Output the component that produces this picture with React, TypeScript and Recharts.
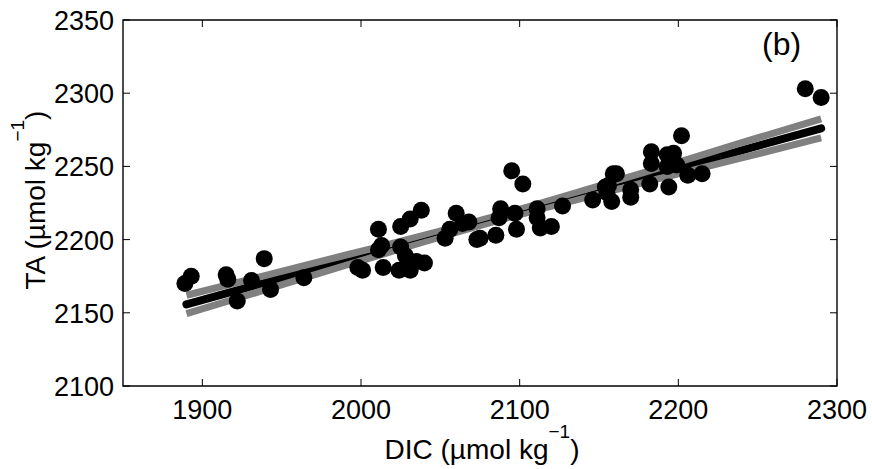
import React from "react";
import { ComposedChart, XAxis, YAxis, Line, Scatter, ReferenceArea } from "recharts";

// measured samples: DIC vs TA
const dicValues = [
  1889, 1893, 1915, 1916, 1922, 1931, 1939, 1943, 1964,
  1998, 2001, 2011, 2011, 2013, 2014, 2025, 2031, 2038, 2025, 2028, 2024, 2031, 2035, 2040,
  2053, 2056, 2060, 2064, 2068, 2073, 2075, 2085, 2088, 2087, 2095, 2102, 2097, 2098,
  2111, 2111, 2113, 2120, 2127, 2146, 2158, 2154, 2159, 2155, 2161, 2156, 2170, 2170,
  2182, 2183, 2183, 2193, 2197, 2193, 2194, 2202, 2206, 2215, 2199, 2280, 2290,
];
const taValues = [
  2170, 2175, 2176, 2173, 2158, 2172, 2187, 2166, 2174,
  2181, 2179, 2207, 2193, 2196, 2181, 2209, 2214, 2220, 2195, 2189, 2179, 2179, 2185, 2184,
  2201, 2207, 2218, 2211, 2212, 2200, 2201, 2203, 2221, 2215, 2247, 2238, 2218, 2207,
  2221, 2215, 2208, 2209, 2223, 2227, 2226, 2236, 2245, 2232, 2245, 2237, 2229, 2234,
  2238, 2260, 2252, 2258, 2259, 2250, 2236, 2271, 2244, 2245, 2251, 2303, 2297,
];

// regression line and its confidence bounds
const fitDic = [1890, 1940, 1990, 2040, 2090, 2140, 2190, 2240, 2290];
const fitTa = [2155.7, 2170.7, 2185.8, 2200.8, 2215.9, 2230.9, 2245.9, 2261.0, 2276.0];
const upperTa = [2162.0, 2175.6, 2189.3, 2203.0, 2217.6, 2233.4, 2249.6, 2266.2, 2282.5];
const lowerTa = [2149.4, 2165.8, 2182.3, 2198.6, 2214.2, 2228.4, 2242.2, 2255.8, 2269.5];

const xTicks = [1900, 2000, 2100, 2200, 2300];
const yTicks = [2100, 2150, 2200, 2250, 2300, 2350];

const points = dicValues.map((d, i) => ({ dic: d, ta: taValues[i] }));
const toLine = (ys: number[]) => fitDic.map((d, i) => ({ dic: d, ta: ys[i] }));

const W = 872;
const H = 469;
const LEFT = 123;
const RIGHT = 837;
const TOP = 20;
const BOTTOM = 386;
const TICK = 7;
const FONT = "'Liberation Sans', Arial, Helvetica, sans-serif";
const FS = 27;

const XTick = (props: any) => {
  const { x, payload } = props;
  return (
    <g>
      <line x1={x} x2={x} y1={BOTTOM} y2={BOTTOM - TICK} stroke="#000" />
      <line x1={x} x2={x} y1={TOP} y2={TOP + TICK} stroke="#000" />
      <text x={x} y={BOTTOM + 33} textAnchor="middle" fontSize={FS} fontFamily={FONT} fill="#000">
        {payload.value}
      </text>
    </g>
  );
};

const YTick = (props: any) => {
  const { y, payload } = props;
  return (
    <g>
      <line x1={LEFT} x2={LEFT + TICK} y1={y} y2={y} stroke="#000" />
      <line x1={RIGHT} x2={RIGHT - TICK} y1={y} y2={y} stroke="#000" />
      <text x={LEFT - 9} y={y + 10} textAnchor="end" fontSize={FS} fontFamily={FONT} fill="#000">
        {payload.value}
      </text>
    </g>
  );
};

const Dot = (p: any) => <circle cx={p.cx} cy={p.cy} r={8.5} fill="#000" />;

export default function App() {
  return (
    <div style={{ position: "absolute", left: 0, top: 0, width: W, height: H, background: "#fff" }}>
      <ComposedChart width={W} height={H} margin={{ top: TOP, right: W - RIGHT, bottom: 0, left: 0 }}>
        <XAxis
          dataKey="dic"
          type="number"
          domain={[1850, 2300]}
          ticks={xTicks}
          interval={0}
          allowDataOverflow
          axisLine={false}
          tickLine={false}
          tick={XTick}
          height={H - BOTTOM}
        />
        <YAxis
          dataKey="ta"
          type="number"
          domain={[2100, 2350]}
          ticks={yTicks}
          interval={0}
          allowDataOverflow
          axisLine={false}
          tickLine={false}
          tick={YTick}
          width={LEFT}
        />
        <ReferenceArea x1={1850} x2={2300} y1={2100} y2={2350} fill="none" stroke="#000" strokeWidth={1.4} fillOpacity={0} />
        <Line data={toLine(fitTa)} dataKey="ta" type="monotone" stroke="#000" strokeWidth={8} strokeLinecap="round" dot={false} isAnimationActive={false} />
        <Line data={toLine(upperTa)} dataKey="ta" type="monotone" stroke="#808080" strokeWidth={7} strokeLinecap="butt" dot={false} isAnimationActive={false} />
        <Line data={toLine(lowerTa)} dataKey="ta" type="monotone" stroke="#808080" strokeWidth={7} strokeLinecap="butt" dot={false} isAnimationActive={false} />
        <Line data={toLine(fitTa)} dataKey="ta" type="monotone" stroke="#000" strokeWidth={1} dot={false} isAnimationActive={false} />
        <Scatter data={points} dataKey="ta" fill="#000" shape={Dot} isAnimationActive={false} />
      </ComposedChart>

      {/* panel label and axis titles */}
      <svg width={W} height={H} style={{ position: "absolute", left: 0, top: 0, pointerEvents: "none" }} fontFamily={FONT} fill="#000">
        <text x={762} y={55} fontSize={32}>(b)</text>
        <text x={482} y={459} fontSize={28} textAnchor="middle">
          DIC (µmol kg<tspan dy={-21} fontSize={19}>−1</tspan><tspan dy={21}>)</tspan>
        </text>
        <text transform="translate(45,200) rotate(-90)" fontSize={28} textAnchor="middle">
          TA (µmol kg<tspan dy={-21} fontSize={19}>−1</tspan><tspan dy={21}>)</tspan>
        </text>
      </svg>
    </div>
  );
}
